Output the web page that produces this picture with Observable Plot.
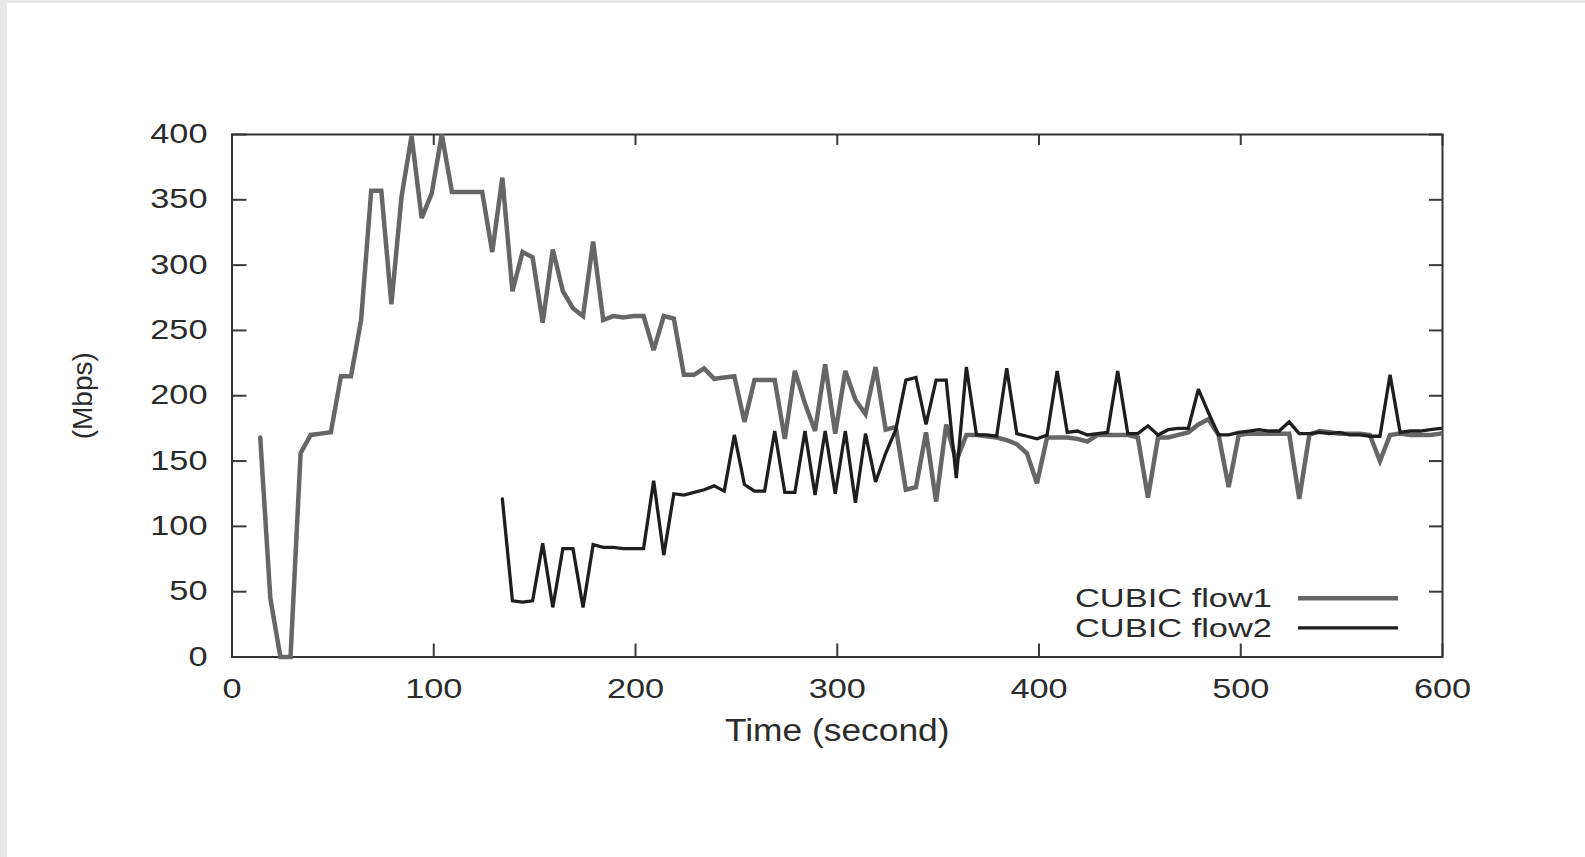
<!DOCTYPE html>
<html><head><meta charset="utf-8">
<script src="https://cdn.jsdelivr.net/npm/d3@7"></script>
<script src="https://cdn.jsdelivr.net/npm/@observablehq/plot@0.6"></script>
<style>
html,body{margin:0;padding:0;background:#fff;overflow:hidden;}
#page{position:relative;width:1585px;height:857px;background:#fff;}
#chart{position:absolute;left:0;top:0;}
#topband{position:absolute;left:0;top:0;width:1585px;height:3px;background:#e8e8e8;}
#leftband{position:absolute;left:0;top:0;width:7px;height:857px;background:#e8e8e8;}
#legend{position:absolute;left:0;top:0;pointer-events:none;}
</style></head><body>
<div id="page"><div id="chart"></div><div id="topband"></div><div id="leftband"></div>
<svg id="legend" width="1585" height="857"></svg></div>
<script>
const xTitle = "Time (second)";
const yTitle = "(Mbps)";
const seriesNames = ["CUBIC flow1", "CUBIC flow2"];
const xTicks = [0, 100, 200, 300, 400, 500, 600];
const yTicks = [0, 50, 100, 150, 200, 250, 300, 350, 400];

const flow1Time = [14,19,24,29,34,39,44,49,54,59,64,69,74,79,84,89,94,99,104,109,114,119,124,129,134,139,144,149,154,159,164,169,174,179,184,189,194,199,204,209,214,219,224,229,234,239,244,249,254,259,264,269,274,279,284,289,294,299,304,309,314,319,324,329,334,339,344,349,354,359,364,369,374,379,384,389,394,399,404,409,414,419,424,429,434,439,444,449,454,459,464,469,474,479,484,489,494,499,504,509,514,519,524,529,534,539,544,549,554,559,564,569,574,579,584,589,594,599];
const flow1Mbps = [168,45,0,0,156,170,171,172,
  215,215,258,357,357,270,352,399,
  336,355,400,356,356,356,356,310,
  367,280,310,306,256,312,280,267,
  261,318,258,261,260,261,261,235,
  261,259,216,216,221,213,214,215,
  180,212,212,212,167,219,194,173,
  224,171,219,197,186,222,174,176,
  128,130,172,119,178,150,170,170,
  169,168,166,163,156,133,168,168,
  168,167,165,170,170,170,170,168,
  122,168,168,170,172,178,182,170,
  130,170,171,171,171,171,171,121,
  170,173,172,171,171,171,170,150,
  170,171,170,170,170,171];

const flow2Time = [134,139,144,149,154,159,164,169,174,179,184,189,194,199,204,209,214,219,224,229,234,239,244,249,254,259,264,269,274,279,284,289,294,299,304,309,314,319,324,329,334,339,344,349,354,359,364,369,374,379,384,389,394,399,404,409,414,419,424,429,434,439,444,449,454,459,464,469,474,479,484,489,494,499,504,509,514,519,524,529,534,539,544,549,554,559,564,569,574,579,584,589,594,599];
const flow2Mbps = [121,43,42,43,87,38,83,83,
  38,86,84,84,83,83,83,135,
  78,125,124,126,128,131,127,170,
  132,127,127,173,126,126,173,124,
  173,125,173,118,171,134,156,174,
  212,214,178,212,212,137,222,170,
  170,169,221,171,169,167,170,219,
  172,173,170,171,172,219,171,171,
  177,170,174,175,175,205,187,170,
  170,172,173,174,173,173,180,171,
  171,172,171,172,170,170,169,169,
  216,172,173,173,174,175];

const flow1 = flow1Time.map((t, i) => ({t, v: flow1Mbps[i]}));
const flow2 = flow2Time.map((t, i) => ({t, v: flow2Mbps[i]}));

const colors = ["#666666", "#1e1e1e"];
const widths = [4.5, 3.3];

const W = 1585, H = 857, mL = 231.5, mR = 143, mT = 134, mB = 200.5;
const pw = W - mL - mR, ph = H - mT - mB;
const tickColor = "#3a3a3a";

const plot = Plot.plot({
  width: W, height: H,
  marginLeft: mL, marginRight: mR, marginTop: mT, marginBottom: mB,
  style: {fontFamily: "'Liberation Sans', Arial, sans-serif", fontSize: "27px", color: "#2b2b2b", background: "transparent", overflow: "visible"},
  x: {domain: [0, 600], ticks: xTicks, tickSize: 0, tickPadding: 21.5, label: null},
  y: {domain: [0, 400], ticks: yTicks, tickSize: 0, tickPadding: 24.5, label: null},
  marks: [
    Plot.tickX(xTicks, {x: d => d, insetTop: ph - 13, stroke: tickColor, strokeWidth: 2}),
    Plot.tickX(xTicks, {x: d => d, insetBottom: ph - 11, stroke: tickColor, strokeWidth: 2}),
    Plot.tickY(yTicks, {y: d => d, insetRight: pw - 15, stroke: tickColor, strokeWidth: 2}),
    Plot.tickY(yTicks, {y: d => d, insetLeft: pw - 13, stroke: tickColor, strokeWidth: 2}),
    Plot.frame({stroke: "#333", strokeWidth: 2}),
    Plot.line(flow1, {x: "t", y: "v", stroke: colors[0], strokeWidth: widths[0], strokeLinejoin: "miter", strokeMiterlimit: 3}),
    Plot.line(flow2, {x: "t", y: "v", stroke: colors[1], strokeWidth: widths[1], strokeLinejoin: "miter", strokeMiterlimit: 3}),
    Plot.text([xTitle], {text: d => d, frameAnchor: "bottom", textAnchor: "middle", lineAnchor: "bottom", dy: 84, fontSize: 31, fill: "#2b2b2b"}),
    Plot.text([yTitle], {text: d => d, frameAnchor: "left", textAnchor: "middle", rotate: -90, lineAnchor: "bottom", dx: -140, fontSize: 28, fill: "#2b2b2b"})
  ]
});
document.getElementById("chart").append(plot);

function stretch(t, f) {
  const L = t.getComputedTextLength();
  t.setAttribute("textLength", L * f);
  t.setAttribute("lengthAdjust", "spacingAndGlyphs");
}
plot.querySelectorAll("text").forEach(t => {
  const s = t.textContent;
  if (s === xTitle) stretch(t, 1.14);
  else if (s === yTitle) { /* keep natural */ }
  else stretch(t, 1.27);
});

// legend
const lg = d3.select("#legend");
const legX = 1272, lineX1 = 1298, lineX2 = 1398;
const legBase = [607, 636.5];
seriesNames.forEach((name, i) => {
  lg.append("text").attr("x", legX).attr("y", legBase[i]).attr("text-anchor", "end")
    .attr("font-family", "'Liberation Sans', Arial, sans-serif").attr("font-size", 26.5)
    .attr("fill", "#2b2b2b").attr("textLength", 197).attr("lengthAdjust", "spacingAndGlyphs").text(name);
  lg.append("line").attr("x1", lineX1).attr("x2", lineX2)
    .attr("y1", legBase[i] - 8.7).attr("y2", legBase[i] - 8.7)
    .attr("stroke", colors[i]).attr("stroke-width", widths[i]);
});
</script>
</body></html>
